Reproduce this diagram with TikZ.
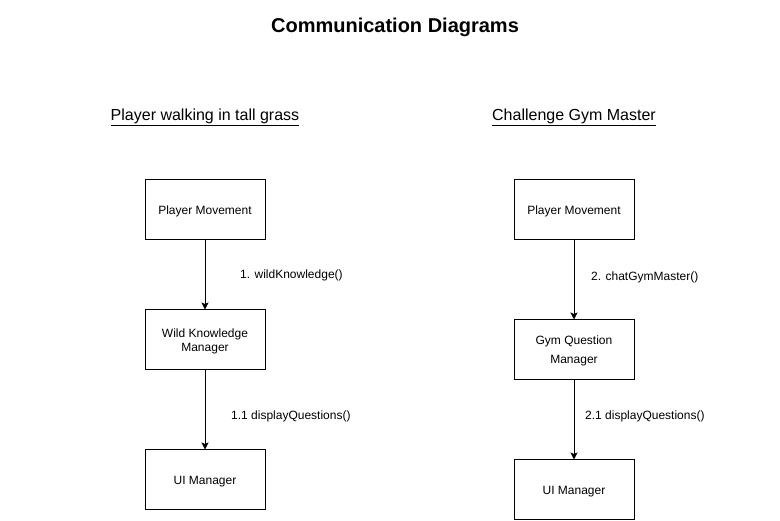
\documentclass[tikz,border=0pt]{standalone}
\usepackage{fontspec}
\setmainfont{Liberation Sans}
\usetikzlibrary{arrows.meta}
\begin{document}
\begin{tikzpicture}[x=1pt,y=-1pt,
  obj/.style={draw, line width=1pt, minimum width=120pt, minimum height=60pt, inner sep=0pt, align=center, text depth=0pt, font=\fontsize{12}{14}\selectfont},
  msg/.style={anchor=west, inner sep=0pt, font=\fontsize{12}{14}\selectfont},
  call/.style={line width=1pt, -{Stealth[length=7pt,width=7pt,inset=1.5pt]}},
  heading/.style={inner sep=0pt, font=\fontsize{16}{19}\selectfont}]
\useasboundingbox (0,0) rectangle (780,521);
\node[inner sep=0pt, font=\bfseries\fontsize{20}{24}\selectfont] (title) at (395,27) {Communication Diagrams};
\node[heading] (h1) at (205,117) {\underline{Player walking in tall grass}};
\node[heading] (h2) at (574,117) {\underline{Challenge Gym Master}};
% left diagram
\node[obj] (pm1) at (205,210) {Player Movement};
\node[obj] (wk) at (205,340) {Wild Knowledge\\Manager};
\node[obj] (ui1) at (205,480) {UI Manager};
% right diagram
\node[obj] (pm2) at (574,210) {Player Movement};
\node[obj, font=\fontsize{12}{19}\selectfont] (gq) at (574,350) {Gym Question\\Manager};
\node[obj] (ui2) at (574,490) {UI Manager};
\draw[call] (pm1) -- (wk);
\draw[call] (wk) -- (ui1);
\draw[call] (pm2) -- (gq);
\draw[call] (gq) -- (ui2);
\node[msg] (m1) at (240,275) {1. wildKnowledge()};
\node[msg] (m11) at (231,416) {1.1 displayQuestions()};
\node[msg] (m2) at (591,277) {2. chatGymMaster()};
\node[msg] (m21) at (585,416) {2.1 displayQuestions()};
\end{tikzpicture}
\end{document}
